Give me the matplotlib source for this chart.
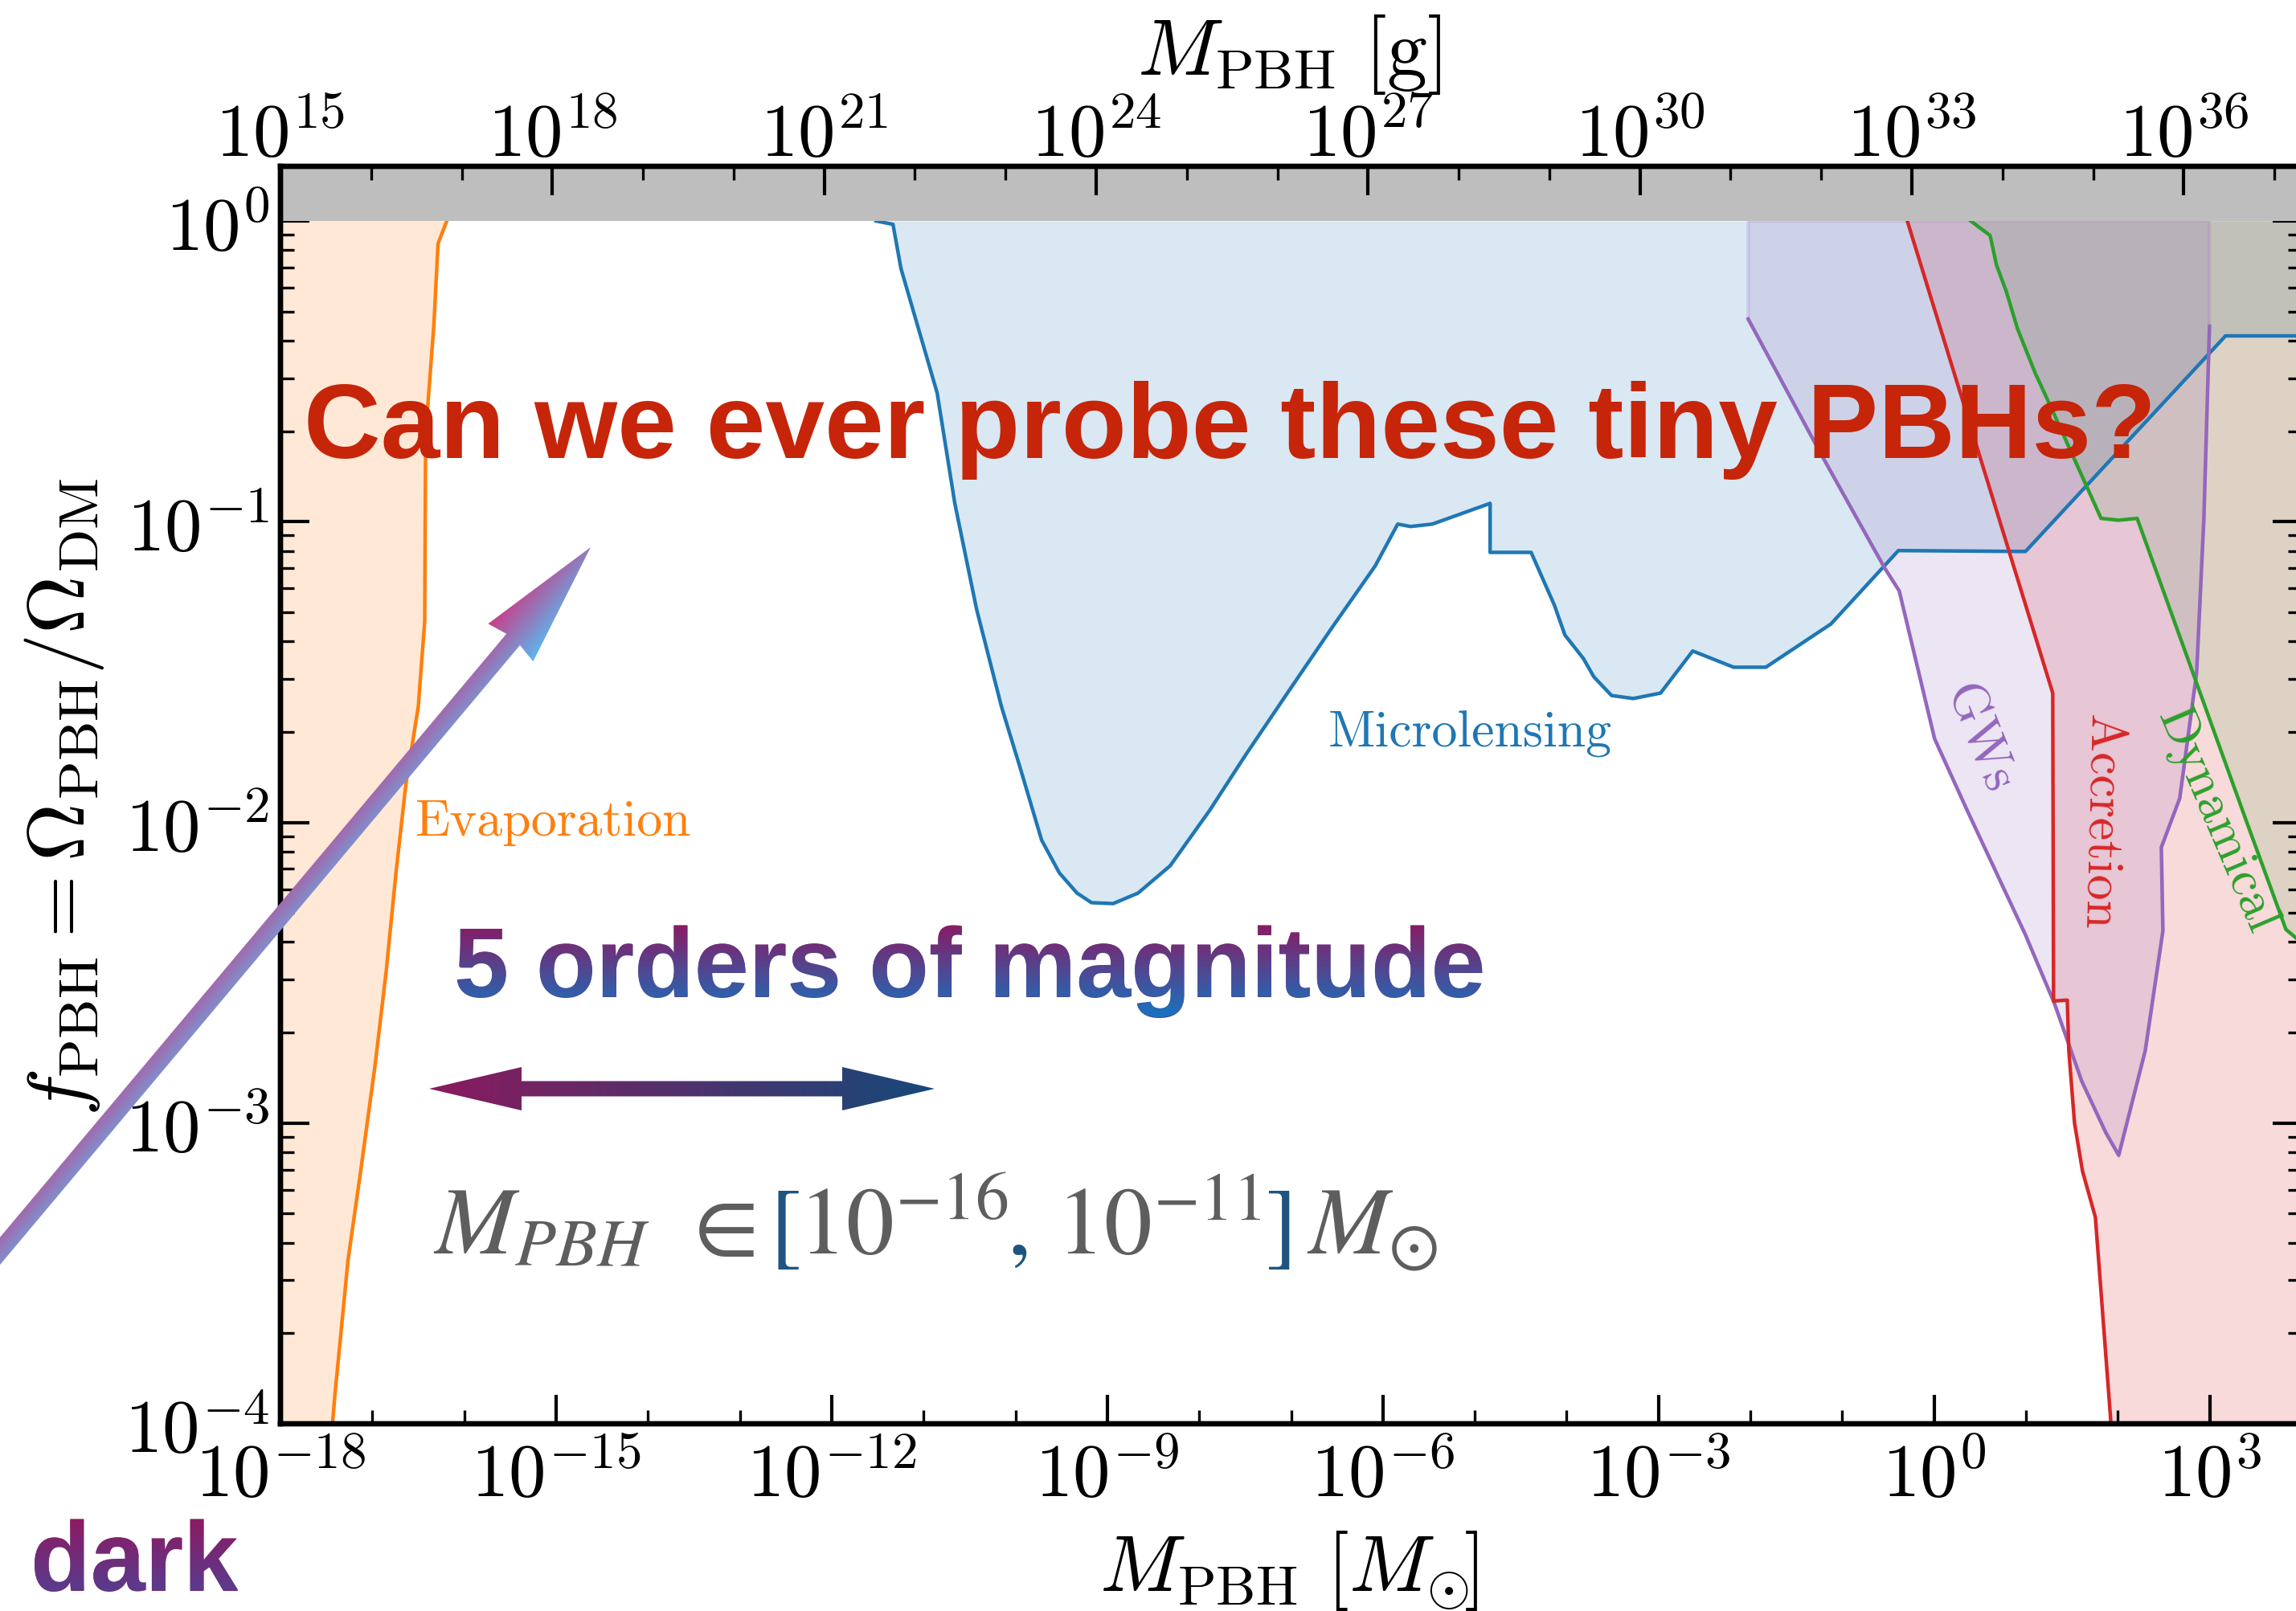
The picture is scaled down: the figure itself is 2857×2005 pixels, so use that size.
import numpy as np
import matplotlib
matplotlib.use("Agg")
import matplotlib.pyplot as plt
from matplotlib.ticker import FixedLocator, FixedFormatter, NullFormatter, LogLocator
from matplotlib.patches import Polygon, PathPatch
from matplotlib.textpath import TextPath
from matplotlib.font_manager import FontProperties
from matplotlib.transforms import Affine2D

W, H, DPI = 2857, 2006, 200
plt.rcParams['mathtext.fontset'] = 'cm'

# ---------------- data ----------------
x_major_exp = [-18, -15, -12, -9, -6, -3, 0, 3]
x_tick_labels = [r'$10^{-18}$', r'$10^{-15}$', r'$10^{-12}$', r'$10^{-9}$',
                 r'$10^{-6}$', r'$10^{-3}$', r'$10^{0}$', r'$10^{3}$']
top_major_exp = [15, 18, 21, 24, 27, 30, 33, 36]
top_tick_labels = [r'$10^{15}$', r'$10^{18}$', r'$10^{21}$', r'$10^{24}$',
                   r'$10^{27}$', r'$10^{30}$', r'$10^{33}$', r'$10^{36}$']
y_major_exp = [-4, -3, -2, -1, 0]
y_tick_labels = [r'$10^{-4}$', r'$10^{-3}$', r'$10^{-2}$', r'$10^{-1}$', r'$10^{0}$']

mass_range_msun = (1e-18, 1e4)
mass_range_g = (1e15, 10 ** 37.3)
f_range = (1e-4, 1.52)

# Evaporation (log10 M [Msun], log10 f)
evap_logM = [-16.19, -16.285, -16.33, -16.42, -16.43, -16.50, -16.635, -16.74,
             -16.85, -16.97, -17.12, -17.265, -17.405, -17.44]
evap_logf = [0.0, -0.075, -0.345, -0.709, -1.332, -1.615, -1.874, -2.160,
             -2.497, -2.807, -3.144, -3.457, -3.896, -4.02]

# Microlensing
ml_logM = [-11.517, -11.333, -11.246, -10.852, -10.660, -10.423, -10.152, -9.951,
           -9.715, -9.522, -9.330, -9.172, -8.936, -8.665, -8.315, -7.886, -7.493,
           -7.020, -6.556, -6.084, -5.839, -5.699, -5.463, -4.833, -4.833, -4.387,
           -4.133, -4.019, -3.818, -3.704, -3.512, -3.276, -2.978, -2.628, -2.182,
           -1.832, -1.123, -0.389, 0.994, 3.172, 4.0]
ml_logf = [0.0, -0.011, -0.158, -0.572, -0.939, -1.291, -1.615, -1.816,
           -2.059, -2.168, -2.235, -2.267, -2.270, -2.235, -2.144, -1.960, -1.775,
           -1.561, -1.353, -1.147, -1.008, -1.016, -1.008, -0.939, -1.102, -1.102,
           -1.278, -1.377, -1.455, -1.516, -1.578, -1.588, -1.570, -1.430, -1.484,
           -1.484, -1.340, -1.096, -1.099, -0.382, -0.382]

# Gravitational waves
gw_logM = [-2.024, -1.666, -1.246, -0.537, -0.380, 0.005, 0.364, 0.994, 1.309,
           1.607, 1.869, 2.009, 2.298, 2.490, 2.473, 2.673, 2.857, 2.936, 2.997]
gw_logf = [-0.326, -0.529, -0.767, -1.155, -1.230, -1.722, -1.963, -2.374, -2.602,
           -2.861, -3.032, -3.107, -2.759, -2.361, -2.083, -1.920, -1.503, -0.989, -0.350]

# Accretion
acc_logM = [-0.292, 1.291, 1.300, 1.449, 1.466, 1.528, 1.615, 1.755, 1.930]
acc_logf = [0.0, -1.570, -2.594, -2.591, -2.759, -3.0, -3.160, -3.313, -4.02]

# Dynamical
dyn_logM = [0.399, 0.609, 0.679, 0.784, 0.907, 1.099, 1.265, 1.817, 2.009, 2.210,
            2.857, 3.400, 3.829, 4.0]
dyn_logf = [0.0, -0.048, -0.147, -0.233, -0.358, -0.505, -0.615, -0.989, -0.995,
            -0.989, -1.537, -1.997, -2.356, -2.40]

C_EVAP, C_ML, C_GW, C_ACC, C_DYN = '#ff7f0e', '#1f77b4', '#9467bd', '#d62728', '#2ca02c'
FILL_A = 0.17
LW = 1.6

# ---------------- figure ----------------
AX_L, AX_R, AX_T, AX_B = 349, 2864, 208, 1773   # axes box in pixels
fig = plt.figure(figsize=(W / DPI, H / DPI), dpi=DPI)
ax = fig.add_axes([AX_L / W, 1 - AX_B / H, (AX_R - AX_L) / W, (AX_B - AX_T) / H])
ax.set_xscale('log')
ax.set_yscale('log')
ax.set_xlim(*mass_range_msun)
ax.set_ylim(*f_range)


def ax_x(px):
    return (px - AX_L) / (AX_R - AX_L)


def ax_y(py):
    return (AX_B - py) / (AX_B - AX_T)


xmin, xmax = mass_range_msun

em, ef = 10 ** np.array(evap_logM), 10 ** np.array(evap_logf)
mm, mf = 10 ** np.array(ml_logM), 10 ** np.array(ml_logf)
gm, gf = 10 ** np.array(gw_logM), 10 ** np.array(gw_logf)
am, af = 10 ** np.array(acc_logM), 10 ** np.array(acc_logf)
dm, df = 10 ** np.array(dyn_logM), 10 ** np.array(dyn_logf)

ax.fill(np.r_[em, xmin, xmin], np.r_[ef, ef[-1], 1.0], color=C_EVAP, alpha=FILL_A, lw=0)
ax.fill_between(mm, mf, 1.0, color=C_ML, alpha=FILL_A, lw=0)
ax.fill(np.r_[am, xmax, xmax], np.r_[af, af[-1], 1.0], color=C_ACC, alpha=FILL_A, lw=0)
ax.fill(np.r_[dm, xmax], np.r_[df, 1.0], color=C_DYN, alpha=0.13, lw=0)
ax.fill(np.r_[gm[0], gm, gm[-1]], np.r_[1.0, gf, 1.0], facecolor=C_GW, alpha=FILL_A,
        edgecolor=C_GW, lw=1.6)

ax.plot(em, ef, color=C_EVAP, lw=LW, zorder=2.2)
ax.plot(mm, mf, color=C_ML, lw=LW, zorder=2.2)
ax.plot(gm, gf, color=C_GW, lw=LW, zorder=2.2)
ax.plot(am, af, color=C_ACC, lw=LW, zorder=2.2)
ax.plot(dm, df, color=C_DYN, lw=LW, zorder=2.2)

ax.axhspan(1.0, f_range[1], color='#bebebe', lw=0, zorder=2.3)

# curve labels
lab_kw = dict(family='cmr10', fontsize=23)
ax.text(10 ** -16.54, 10 ** -2.041, 'Evaporation', color=C_EVAP, ha='left', va='baseline', **lab_kw)
ax.text(10 ** -6.595, 10 ** -1.745, 'Microlensing', color=C_ML, ha='left', va='baseline', **lab_kw)
ax.text(10 ** 0.481, 10 ** -1.721, 'GWs', color=C_GW, ha='center', va='center',
        rotation=-68, rotation_mode='anchor', **lab_kw)
ax.text(10 ** 1.802, 10 ** -1.996, 'Accretion', color=C_ACC, ha='center', va='center',
        rotation=-91.5, rotation_mode='anchor', **lab_kw)
ax.text(10 ** 3.062, 10 ** -1.993, 'Dynamical', color=C_DYN, ha='center', va='center',
        rotation=-67, rotation_mode='anchor', **lab_kw)

# ticks
ax.xaxis.set_major_locator(FixedLocator([10.0 ** e for e in x_major_exp]))
ax.xaxis.set_major_formatter(FixedFormatter(x_tick_labels))
ax.xaxis.set_minor_locator(FixedLocator([10.0 ** e for e in range(-18, 5)]))
ax.xaxis.set_minor_formatter(NullFormatter())
ax.yaxis.set_major_locator(FixedLocator([10.0 ** e for e in y_major_exp]))
ax.yaxis.set_major_formatter(FixedFormatter(y_tick_labels))
ax.yaxis.set_minor_locator(LogLocator(base=10, subs=np.arange(2, 10), numticks=30))
ax.yaxis.set_minor_formatter(NullFormatter())
ax.tick_params(axis='both', which='both', direction='in')
ax.tick_params(axis='y', which='both', left=True, right=True)
ax.tick_params(axis='x', which='both', bottom=True, top=False)
ax.tick_params(which='major', length=13, width=1.5, labelsize=33.5)
ax.tick_params(which='minor', length=6, width=1.2)
ax.tick_params(axis='x', which='major', pad=7)
ax.tick_params(axis='y', which='major', pad=5)
for s in ax.spines.values():
    s.set_linewidth(2.3)

ax.set_xlabel(r'$M_{\rm PBH}\ [M_{\odot}\!]$', fontsize=36)
ax.xaxis.label.set_verticalalignment('baseline')
ax.xaxis.set_label_coords(ax_x(1604), ax_y(1980))
ax.set_ylabel(r'$f_{\rm PBH} = \Omega_{\rm PBH}/\Omega_{\rm DM}$', fontsize=36)
ax.yaxis.label.set_verticalalignment('baseline')
ax.yaxis.set_label_coords(ax_x(105), ax_y(992))

ax2 = ax.twiny()
ax2.set_xscale('log')
ax2.set_xlim(*mass_range_g)
ax2.xaxis.set_major_locator(FixedLocator([10.0 ** e for e in top_major_exp]))
ax2.xaxis.set_major_formatter(FixedFormatter(top_tick_labels))
ax2.xaxis.set_minor_locator(FixedLocator([10.0 ** e for e in range(15, 38)]))
ax2.xaxis.set_minor_formatter(NullFormatter())
ax2.tick_params(axis='x', which='both', direction='in', top=True, bottom=False)
ax2.tick_params(which='major', length=13, width=1.5, labelsize=33.5, pad=4.7)
ax2.tick_params(which='minor', length=6, width=1.2)
for s in ax2.spines.values():
    s.set_linewidth(2.3)
for t in ax2.get_xticklabels():
    t.set_verticalalignment('baseline')
ax2.set_xlabel(r'$M_{\rm PBH}\ [{\rm g}]$', fontsize=36)
ax2.xaxis.label.set_verticalalignment('baseline')
ax2.xaxis.set_label_coords(ax_x(1604), ax_y(93))


# ---------------- presentation overlay ----------------
def fx(px):
    return px / W


def fy(py):
    return 1 - py / H


ov = fig.add_axes([0, 0, 1, 1], zorder=10)
ov.set_xlim(0, W)
ov.set_ylim(H, 0)
ov.axis('off')
ov.patch.set_alpha(0)


def lerp(c0, c1, t):
    t = np.clip(t, 0, 1)[..., None]
    return (np.array(c0) * (1 - t) + np.array(c1) * t) / 255.0


def gradient_fill(patch, bounds, color_fn):
    x0, y0, x1, y1 = bounds
    xs = np.arange(x0, x1, 1.0)
    ys = np.arange(y0, y1, 1.0)
    X, Y = np.meshgrid(xs, ys)
    im = ov.imshow(color_fn(X, Y), extent=(x0, x1, y1, y0), origin='upper',
                   interpolation='bilinear', aspect='auto')
    im.set_clip_path(patch)


def gradient_patch(verts, color_fn):
    verts = np.asarray(verts, float)
    poly = Polygon(verts, closed=True, facecolor='none', edgecolor='none')
    ov.add_patch(poly)
    (x0, y0), (x1, y1) = verts.min(0) - 2, verts.max(0) + 2
    gradient_fill(poly, (x0, y0, x1, y1), color_fn)


def gradient_text(x_px, y_px, s, size_pt, c_top, c_bot, y_top, y_bot, mid_color):
    # real text underneath, gradient overlay clipped to its glyph outline
    fig.text(fx(x_px), fy(y_px), s, fontsize=size_pt, fontweight='bold',
             family='Liberation Sans', color=mid_color, ha='left', va='baseline')
    fp = FontProperties(family='Liberation Sans', weight='bold')
    tp = TextPath((0, 0), s, size=size_pt * DPI / 72.0, prop=fp)
    path = Affine2D().scale(1, -1).translate(x_px, y_px).transform_path(tp)
    patch = PathPatch(path, facecolor='none', edgecolor='none')
    ov.add_patch(patch)
    e = path.get_extents()
    gradient_fill(patch, (e.x0 - 2, e.y0 - 2, e.x1 + 2, e.y1 + 2),
                  lambda X, Y: lerp(c_top, c_bot, (Y - y_top) / (y_bot - y_top)))


fig.text(fx(378), fy(570), 'Can we ever probe these tiny PBHs?', fontsize=47.7,
         fontweight='bold', family='Liberation Sans', color='#c6250a', ha='left', va='baseline')
gradient_text(565, 1241, '5 orders of magnitude', 44, (139, 26, 98), (22, 116, 192),
              1150, 1266, '#504791')
gradient_text(38, 1980, 'dark', 44, (142, 26, 98), (88, 60, 142), 1890, 1982, '#742870')

GRAY, BLUE_B = '#5e5e5e', '#1d5580'
range_pieces = [(539, r'$M_{PBH}$', GRAY), (845, r'$\in$', GRAY), (957, r'$[$', BLUE_B),
                (993, r'$10^{-16}$', GRAY), (1253, r'$,$', BLUE_B), (1314, r'$10^{-11}$', GRAY),
                (1574, r'$]$', BLUE_B), (1626, r'$M_{\odot}$', GRAY)]
for px, s, c in range_pieces:
    fig.text(fx(px), fy(1561), s, fontsize=43, color=c, ha='left', va='baseline',
             math_fontfamily='stix')

# double arrow
y0a, lx, rx, hl, hh, sh = 1356, 534, 1163, 115, 27, 9.5
darrow = [(lx, y0a), (lx + hl, y0a - hh), (lx + hl, y0a - sh), (rx - hl, y0a - sh),
          (rx - hl, y0a - hh), (rx, y0a), (rx - hl, y0a + hh), (rx - hl, y0a + sh),
          (lx + hl, y0a + sh), (lx + hl, y0a + hh)]
gradient_patch(darrow, lambda X, Y: lerp((139, 26, 94), (21, 73, 122), (X - lx) / (rx - lx)))

# diagonal arrow
S = np.array([0.0, 1558.0])
T = np.array([735.0, 682.0])
u = (T - S) / np.linalg.norm(T - S)
n = np.array([-u[1], u[0]])
if n[0] < 0:
    n = -n
B = T - 150 * u
S2 = S - 60 * u
hw, sw, notch = 36.5, 11.0, 5.0
big = [T, B - notch * u + hw * n, B + sw * n, S2 + sw * n, S2 - sw * n, B - sw * n,
       B - notch * u - hw * n]


def big_col(X, Y):
    d = (X - T[0]) * n[0] + (Y - T[1]) * n[1]
    return lerp((200, 64, 138), (90, 184, 240), (d + hw) / (2 * hw))


gradient_patch(big, big_col)
ov.set_xlim(0, W)
ov.set_ylim(H, 0)

fig.savefig('out.png', dpi=DPI)
